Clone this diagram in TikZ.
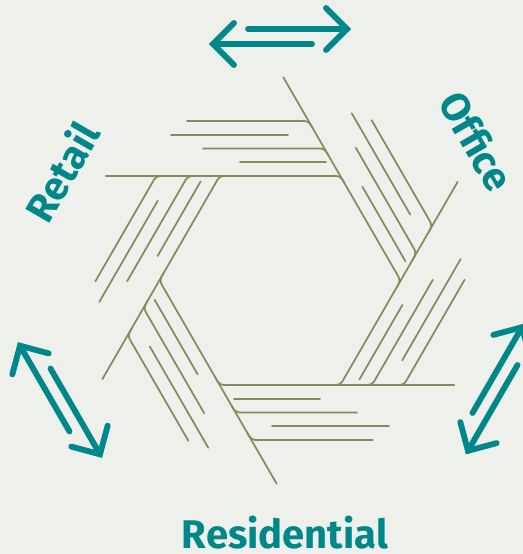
\documentclass[tikz,border=0pt]{standalone}
\usepackage{fontspec}
\setmainfont{Fira Sans}
\usetikzlibrary{calc}
\definecolor{paleground}{RGB}{238,240,235}
\definecolor{olivestroke}{RGB}{134,139,90}
\definecolor{tealmark}{RGB}{0,135,138}
\tikzset{
  hexline/.style={olivestroke, line width=1.3pt, line cap=round, rounded corners=3pt},
  swapline/.style={tealmark, line width=4.4pt, line cap=round},
  swaphead/.style={tealmark, line width=4.4pt, line cap=round, line join=miter},
  zonelabel/.style={tealmark, font=\fontsize{30}{30}\selectfont\bfseries, inner sep=0pt},
  % one edge of the hexagon with its bundle of parallel strokes
  pics/bundle/.style={code={
    \draw[hexline] (-174.35,104.5) -- (60.35,104.5) -- ++(-60:8);
    \draw[hexline] (-40,118.25) -- (46,118.25);
    \draw[hexline] (-77,132) -- (44.47,132) -- ++(-60:8);
    \draw[hexline] (-109,145.75) -- (8,145.75);
    \draw[hexline] (-93,159.5) -- (28.6,159.5) -- ++(-60:8);
  }},
  % pair of opposed arrows
  pics/swaparrows/.style={code={
    \draw[swapline] (-32,7.5) -- (67,7.5);
    \draw[swaphead] (46,28.5) -- (67,7.5) -- (46,-13.5);
    \draw[swapline] (32,-7.5) -- (-67,-7.5);
    \draw[swaphead] (-46,13.5) -- (-67,-7.5) -- (-46,-28.5);
  }}
}

\begin{document}
\begin{tikzpicture}[x=0.75pt, y=0.75pt]
    \useasboundingbox (-280,-273.5) rectangle (243,280.5);
    \fill[paleground] (-280,-273.5) rectangle (243,280.5);

    \foreach \r in {0,60,...,300}
        \pic[rotate=\r] at (0,0) {bundle};

    \pic at (0,244) {swaparrows};
    \pic[rotate=120] at (-220,-119.5) {swaparrows};
    \pic[rotate=-120] at (215,-108.5) {swaparrows};

    \node[zonelabel, rotate=-60] (office) at (196.5,139) {Office};
    \node[zonelabel, rotate=60] (retail) at (-218.5,109) {Retail};
    \node[zonelabel, anchor=base] (residential) at (5,-267.5) {Residential};
\end{tikzpicture}
\end{document}
